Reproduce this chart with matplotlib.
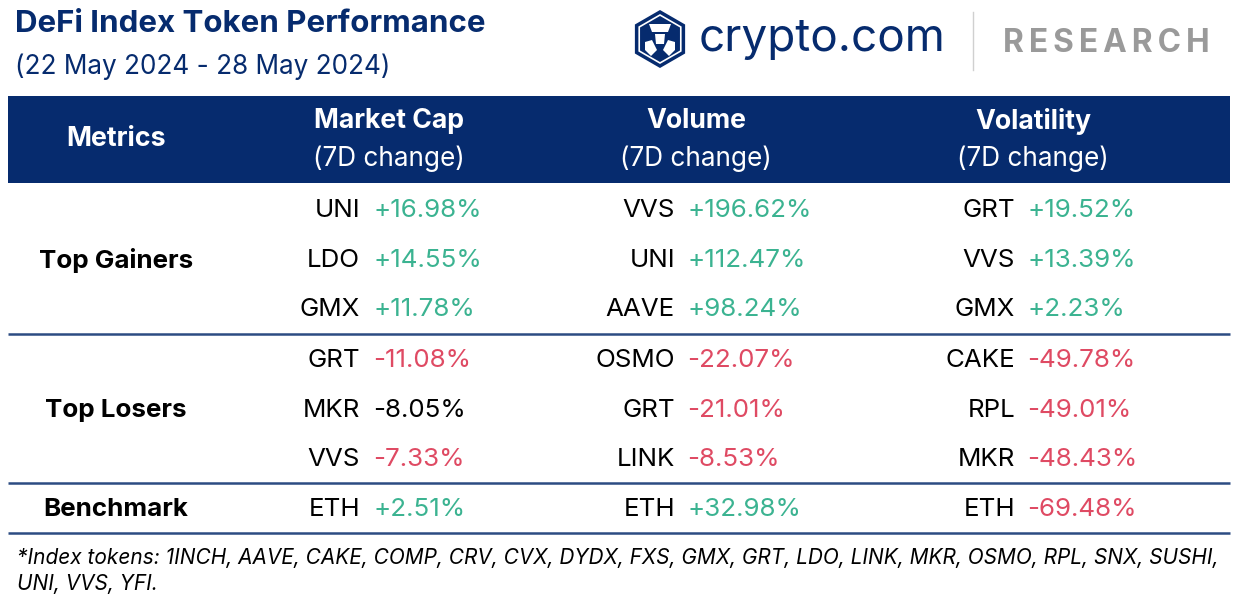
import matplotlib
matplotlib.use("Agg")
import matplotlib.pyplot as plt
import matplotlib.patches as patches

plt.rcParams['font.family'] = ['Inter', 'DejaVu Sans']

NAVY = "#062b6e"
GREEN = "#3bb391"
RED = "#df4a63"
LINE = "#2c4c82"
GREY = "#9a9a9a"

title = "DeFi Index Token Performance"
subtitle = "(22 May 2024 - 28 May 2024)"
metrics = ["Top Gainers", "Top Losers", "Benchmark"]
columns = ["Market Cap", "Volume", "Volatility"]

mcap_tokens = ["UNI", "LDO", "GMX", "GRT", "MKR", "VVS", "ETH"]
mcap_changes = [16.98, 14.55, 11.78, -11.08, -8.05, -7.33, 2.51]
vol_tokens = ["VVS", "UNI", "AAVE", "OSMO", "GRT", "LINK", "ETH"]
vol_changes = [196.62, 112.47, 98.24, -22.07, -21.01, -8.53, 32.98]
vola_tokens = ["GRT", "VVS", "GMX", "CAKE", "RPL", "MKR", "ETH"]
vola_changes = [19.52, 13.39, 2.23, -49.78, -49.01, -48.43, -69.48]
# the reference leaves this one cell uncoloured
plain_cells = [("Market Cap", "MKR")]

footnote = ["*Index tokens: 1INCH, AAVE, CAKE, COMP, CRV, CVX, DYDX, FXS, GMX, GRT, LDO, LINK, MKR, OSMO, RPL, SNX, SUSHI,",
            "UNI, VVS, YFI."]

W, H = 1236, 599
fig = plt.figure(figsize=(W / 100, H / 100), dpi=100)
ax = fig.add_axes([0, 0, 1, 1])
ax.set_xlim(0, W)
ax.set_ylim(H, 0)
ax.axis('off')

dy = 2.5  # matplotlib's 'center' sits a bit high for caps

# title block
ax.text(15, 22 + dy, title, fontsize=22.5, fontweight='bold', color=NAVY, va='center', ha='left')
ax.text(15, 64 + dy, subtitle, fontsize=18.8, color=NAVY, va='center', ha='left')

# logo
hexa = patches.RegularPolygon((660, 39), numVertices=6, radius=29, orientation=0,
                              facecolor=NAVY, edgecolor='none')
ax.add_patch(hexa)
hexa2 = patches.RegularPolygon((660, 39), numVertices=6, radius=24, orientation=0,
                               facecolor='none', edgecolor='white', linewidth=1.2)
ax.add_patch(hexa2)
ax.add_patch(patches.Polygon([(649, 24), (671, 24), (668, 32), (652, 32)], closed=True,
                             facecolor='white', edgecolor='none'))
ax.add_patch(patches.Polygon([(655, 34), (665, 34), (664, 44), (656, 44)], closed=True,
                             facecolor='white', edgecolor='none'))
ax.add_patch(patches.Polygon([(645, 42), (652, 40), (657, 50), (651, 56), (645, 50)], closed=True,
                             facecolor='white', edgecolor='none'))
ax.add_patch(patches.Polygon([(675, 42), (668, 40), (663, 50), (669, 56), (675, 50)], closed=True,
                             facecolor='white', edgecolor='none'))
ax.text(699, 37 + dy, "crypto.com", fontsize=33, color=NAVY, va='center', ha='left')
ax.plot([973, 973], [12, 70], color="#d0d0d0", linewidth=1)
ax.text(1003, 41 + dy, "R E S E A R C H".replace(" ", "\u2009"), fontsize=22.8, fontweight='bold',
        color=GREY, va='center', ha='left')

# header band
ax.add_patch(patches.Rectangle((8, 96), 1222, 87, facecolor=NAVY, edgecolor='none'))
ax.text(116, 137 + dy, "Metrics", fontsize=19.3, fontweight='bold', color='white', va='center', ha='center')
col_centers = [389, 696, 1033]
for name, cx in zip(columns, col_centers):
    ax.text(cx, 119 + dy, name, fontsize=19.2, fontweight='bold', color='white', va='center', ha='center')
    ax.text(cx, 156 + dy, "(7D change)", fontsize=18.8, color='white', va='center', ha='center')

# body
row_y = [208, 258, 307, 358, 408, 457, 507]
metric_y = [258, 408, 507]
for m, y in zip(metrics, metric_y):
    ax.text(116, y + dy, m, fontsize=18.7, fontweight='bold', color='black', va='center', ha='center')

name_x = [360, 675, 1015]
val_x = [373, 687, 1027]
series = [(mcap_tokens, mcap_changes), (vol_tokens, vol_changes), (vola_tokens, vola_changes)]
for ci, (toks, vals) in enumerate(series):
    for tok, v, y in zip(toks, vals, row_y):
        ax.text(name_x[ci], y + dy, tok, fontsize=18.7, color='black', va='center', ha='right')
        if (columns[ci], tok) in plain_cells:
            c = 'black'
        else:
            c = GREEN if v > 0 else RED
        ax.text(val_x[ci], y + dy, "{0:+.2f}%".format(v), fontsize=18.7, color=c, va='center', ha='left')

for y in [334, 483, 533]:
    ax.plot([8, 1230], [y, y], color=LINE, linewidth=1.8, solid_capstyle='butt')

ax.text(17, 555 + dy, footnote[0], fontsize=15, fontstyle='italic', color='black', va='center', ha='left')
ax.text(17, 582 + dy, footnote[1], fontsize=15, fontstyle='italic', color='black', va='center', ha='left')

fig.savefig("out.png", dpi=100)
